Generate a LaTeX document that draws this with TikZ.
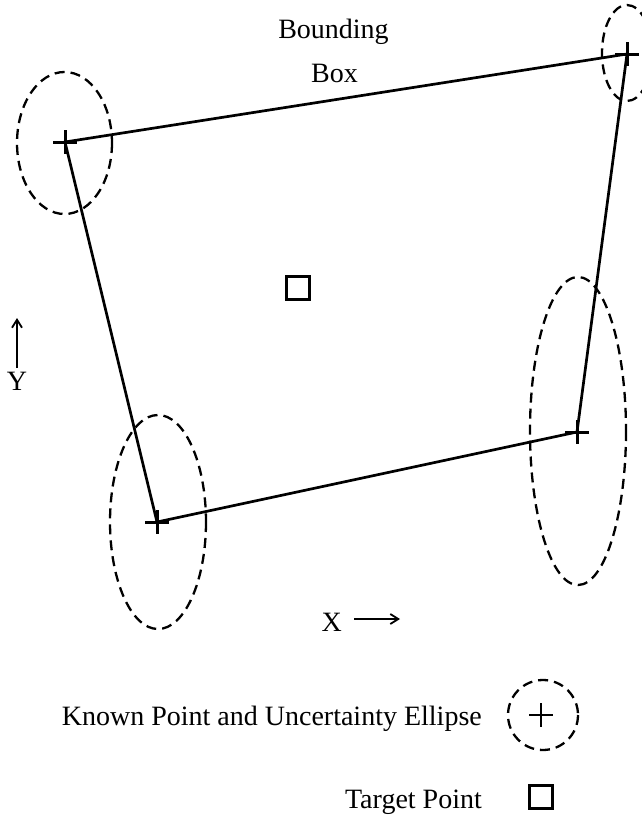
\documentclass[tikz,border=0pt]{standalone}
\usepackage{fontspec}
\setmainfont{Liberation Serif}
\usetikzlibrary{arrows.meta,calc}
\begin{document}
\begin{tikzpicture}[x=1pt,y=-1pt,
  edge/.style={line width=2.7pt},
  unc/.style={line width=2.3pt, dash pattern=on 10pt off 6pt},
  crossmark/.style={line width=3pt},
  target/.style={draw, line width=2.6pt, minimum size=23pt, inner sep=0pt},
  lbl/.style={font=\fontsize{28}{31}\selectfont, inner sep=0pt},
  axis/.style={line width=2pt, -{Straight Barb[length=8pt,width=10pt,line width=1.8pt]}}]
\useasboundingbox (0,0) rectangle (642,819);
% known points
\coordinate (p1) at (65,142);
\coordinate (p2) at (627,54);
\coordinate (p3) at (157,522);
\coordinate (p4) at (577,432);
% bounding box
\draw[edge] (p1) -- (p2) -- (p4) -- (p3) -- cycle;
% uncertainty ellipses
\begin{scope}
\clip (0,0) rectangle (642,819);
\draw[unc] (64.5,143) ellipse [x radius=47.5, y radius=71];
\draw[unc] (627,53) ellipse [x radius=25, y radius=48];
\draw[unc] (158,522) ellipse [x radius=48, y radius=107];
\draw[unc] (578,431) ellipse [x radius=48, y radius=154];
\end{scope}
% plus marks
\foreach \p in {p1,p2,p3,p4}{
  \draw[crossmark] ($(\p)+(-12,0)$) -- ($(\p)+(12,0)$);
  \draw[crossmark] ($(\p)+(0,-12)$) -- ($(\p)+(0,12)$);
}
% target
\node[target] (tgt) at (298,288) {};
% labels
\node[lbl, anchor=base] (bb1) at (333.5,38) {Bounding};
\node[lbl, anchor=base] (bb2) at (334.5,82) {Box};
\node[lbl, anchor=base] (ylab) at (17,390) {Y};
\coordinate (ytail) at (17,368);
\coordinate (ytip) at (17,318);
\draw[axis] (ytail) -- (ytip);
\node[lbl, anchor=base east] (xlab) at (342,631) {X};
\coordinate (xtail) at (354,619);
\coordinate (xtip) at (400,619);
\draw[axis] (xtail) -- (xtip);
% legend
\node[lbl, anchor=base east] (leg1) at (482,725) {Known Point and Uncertainty Ellipse};
\coordinate (lp) at (541,715);
\draw[unc] (543,715) ellipse [x radius=35, y radius=35];
\draw[line width=2.4pt] ($(lp)+(-12,0)$) -- ($(lp)+(12,0)$);
\draw[line width=2.4pt] ($(lp)+(0,-12)$) -- ($(lp)+(0,12)$);
\node[lbl, anchor=base east] (leg2) at (482,808) {Target Point};
\node[target] (legtgt) at (541,797) {};
\end{tikzpicture}
\end{document}
